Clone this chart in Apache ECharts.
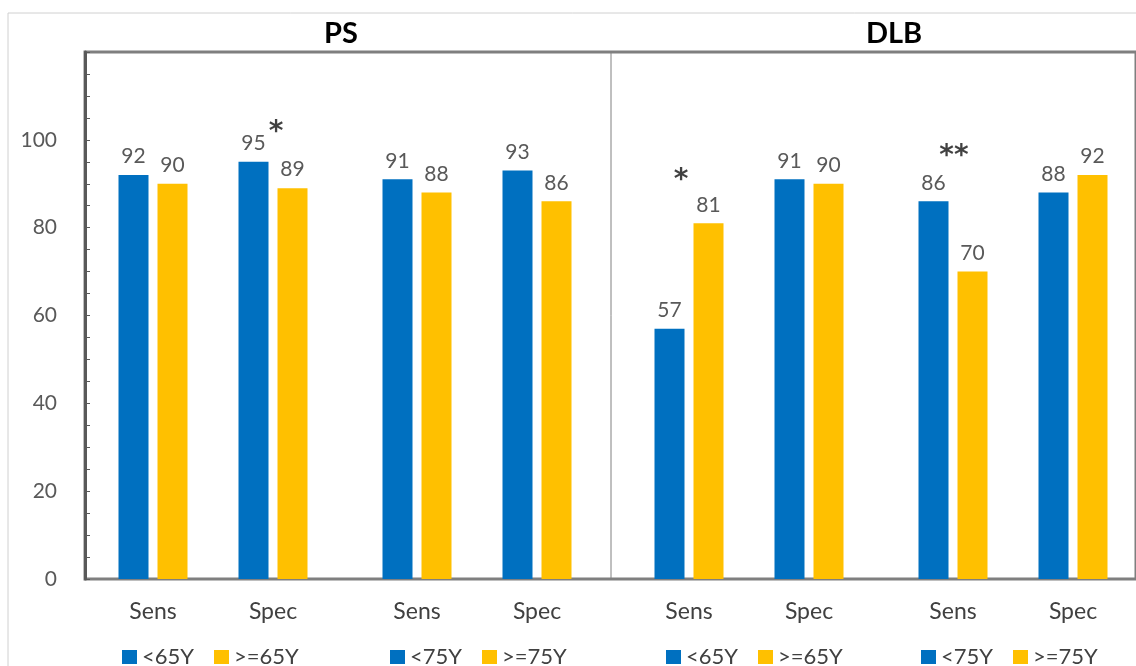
<!DOCTYPE html>
<html>
<head>
<meta charset="utf-8">
<script src="https://cdn.jsdelivr.net/npm/echarts@6/dist/echarts.min.js"></script>
<style>
  html, body { margin: 0; background: #fff; }
  #chart { width: 1136px; height: 666px; }
</style>
</head>
<body>
<div id="chart"></div>
<script>
// data
const groupCategories = ["Sens", "Spec"];
const panelTitles = ["PS", "DLB"];
const yTicks = [0, 20, 40, 60, 80, 100];

const psUnder65 = [92, 95];
const psOver65 = [90, 89];
const psUnder75 = [91, 93];
const psOver75 = [88, 86];
const dlbUnder65 = [57, 91];
const dlbOver65 = [81, 90];
const dlbUnder75 = [86, 88];
const dlbOver75 = [70, 92];

// significance marks: pair index, category, text, height on the y scale
const sigPair = [0, 2, 3];
const sigCategory = ["Spec", "Sens", "Sens"];
const sigText = ["*", "*", "**"];
const sigHeight = [103, 92, 97.5];

const pairs = [
  { young: psUnder65, old: psOver65, names: ["<65Y", ">=65Y"] },
  { young: psUnder75, old: psOver75, names: ["<75Y", ">=75Y"] },
  { young: dlbUnder65, old: dlbOver65, names: ["<65Y", ">=65Y"] },
  { young: dlbUnder75, old: dlbOver75, names: ["<75Y", ">=75Y"] },
];

const BLUE = "#0070c0";
const YELLOW = "#ffc000";
const TXT = "#595959";
const FONT = "Lato";
const TOP = 52;
const BOTTOM = 87;
const pairLeft = [93, 357, 629, 893];
const legendLeft = [122, 390, 666, 921];
const sigNudge = [3, -8, 1];

const grids = [{ left: 85, right: -10, top: TOP, bottom: BOTTOM, show: true, borderColor: "#7f7f7f", borderWidth: 3 }];
const xAxes = [{ gridIndex: 0, type: "value", show: false }];
const yAxes = [{
  gridIndex: 0,
  type: "value",
  min: 0,
  max: 120,
  interval: 20,
  axisLine: { show: true, lineStyle: { color: "#595959", width: 3 } },
  axisTick: { show: true, inside: true, length: 5, lineStyle: { color: "#595959" } },
  minorTick: { show: true, splitNumber: 4, length: 5, lineStyle: { color: "#595959" } },
  splitLine: { show: false },
  axisLabel: {
    color: TXT, fontFamily: FONT, fontSize: 21, margin: 28,
    formatter: (v) => (yTicks.includes(v) ? String(v) : ""),
  },
}];
const series = [];

pairs.forEach((p, i) => {
  const g = i + 1;
  grids.push({ left: pairLeft[i], width: 240, top: TOP, bottom: BOTTOM });
  xAxes.push({
    gridIndex: g,
    type: "category",
    data: groupCategories,
    axisLine: { show: false },
    axisTick: { show: false },
    axisLabel: { color: "#404040", fontFamily: FONT, fontSize: 23, margin: 21 },
  });
  yAxes.push({ gridIndex: g, type: "value", min: 0, max: 120, show: false });
  const lbl = { show: true, position: "top", distance: 8, color: TXT, fontFamily: FONT, fontSize: 21 };
  series.push({
    name: p.names[0], type: "bar", xAxisIndex: g, yAxisIndex: g,
    barWidth: 30, barGap: "30%", itemStyle: { color: BLUE },
    label: lbl, data: p.young,
  });
  series.push({
    name: p.names[1], type: "bar", xAxisIndex: g, yAxisIndex: g,
    barWidth: 30, barGap: "30%", itemStyle: { color: YELLOW },
    label: lbl, data: p.old,
  });
  const sigData = [];
  sigPair.forEach((pi, k) => {
    if (pi !== i) return;
    sigData.push({
      value: [sigCategory[k], sigHeight[k]],
      sig: sigText[k],
      label: { offset: [sigNudge[k], 6] },
    });
  });
  if (sigData.length) {
    series.push({
      type: "scatter", xAxisIndex: g, yAxisIndex: g, symbolSize: 0, silent: true,
      label: {
        show: true, position: "inside", color: "#111", fontWeight: "bold",
        fontFamily: "DejaVu Sans", fontSize: 28, formatter: (d) => d.data.sig,
      },
      data: sigData,
    });
  }
});

const chart = echarts.init(document.getElementById("chart"));
chart.setOption({
  backgroundColor: "#fff",
  animation: false,
  title: [
    { text: panelTitles[0], left: 336, top: 14, textAlign: "center",
      textStyle: { fontFamily: FONT, fontSize: 29, fontWeight: "bold", color: "#000" } },
    { text: panelTitles[1], left: 889, top: 14, textAlign: "center",
      textStyle: { fontFamily: FONT, fontSize: 29, fontWeight: "bold", color: "#000" } },
  ],
  legend: pairs.map((p, i) => ({
    data: p.names, left: legendLeft[i], top: 646, padding: 0, icon: "rect",
    itemWidth: 15, itemHeight: 14, itemGap: 20,
    textStyle: { color: "#404040", fontFamily: FONT, fontSize: 22, lineHeight: 22 },
  })),
  grid: grids,
  xAxis: xAxes,
  yAxis: yAxes,
  series: series,
  graphic: [
    { type: "rect", shape: { x: 8, y: 13, width: 1200, height: 700 }, style: { fill: "none", stroke: "#d0d0d0", lineWidth: 1 }, z: -1 },
    { type: "line", shape: { x1: 611, y1: TOP, x2: 611, y2: 666 - BOTTOM }, style: { stroke: "#808080", lineWidth: 1 } },
  ],
});
</script>
</body>
</html>
